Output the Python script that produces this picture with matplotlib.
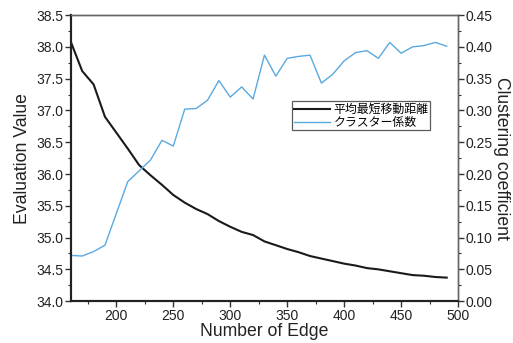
import matplotlib.pyplot as plt
import numpy as np

plt.rcParams['font.family'] = ['Liberation Sans', 'Noto Sans CJK JP', 'DejaVu Sans']

# data
edges = list(range(160, 500, 10))
avg_path = [38.08, 37.62, 37.41, 36.90, 36.65, 36.40, 36.14, 35.98, 35.83, 35.67,
            35.55, 35.45, 35.37, 35.26, 35.17, 35.09, 35.04, 34.94, 34.88, 34.82,
            34.77, 34.71, 34.67, 34.63, 34.59, 34.56, 34.52, 34.50, 34.47, 34.44,
            34.41, 34.40, 34.38, 34.37]
cluster = [0.072, 0.071, 0.078, 0.088, 0.138, 0.188, 0.205, 0.222, 0.253, 0.244,
           0.302, 0.303, 0.316, 0.347, 0.321, 0.337, 0.318, 0.387, 0.354, 0.382,
           0.385, 0.387, 0.343, 0.357, 0.378, 0.391, 0.394, 0.382, 0.407, 0.390,
           0.400, 0.402, 0.407, 0.401]

fig = plt.figure(figsize=(5.13, 3.43), dpi=100)
ax = fig.add_axes([0.138, 0.122, 0.755, 0.834])
ax2 = ax.twinx()

l1, = ax.plot(edges, avg_path, color='#1a1a1a', lw=1.5, label='平均最短移動距離')
l2, = ax2.plot(edges, cluster, color='#5aa9e0', lw=1.0, label='クラスター係数')

ax.set_xlim(160, 500)
ax.set_ylim(34.0, 38.5)
ax2.set_ylim(0, 0.45)
ax.set_xticks(np.arange(200, 501, 50))
ax.set_xticks(np.arange(175, 501, 25), minor=True)
ax.set_yticks(np.arange(34.0, 38.51, 0.5))
ax.set_yticks(np.arange(34.0, 38.51, 0.25), minor=True)
ax2.set_yticks(np.arange(0, 0.451, 0.05))
ax2.set_yticks(np.arange(0, 0.451, 0.025), minor=True)
ax.yaxis.set_major_formatter(plt.FormatStrFormatter('%.1f'))
ax2.yaxis.set_major_formatter(plt.FormatStrFormatter('%.2f'))

for a in (ax, ax2):
    a.tick_params(which='major', length=4, width=1, labelsize=10, pad=1.5,
                  colors='#333333', labelcolor='#222222')
    a.tick_params(which='minor', length=2.5, width=0.8, colors='#333333')
    for s in a.spines.values():
        s.set_color('#666666')
        s.set_linewidth(1.0)
for a in (ax, ax2):
    a.spines['left'].set_color('#222222')
    a.spines['left'].set_linewidth(1.5)
    a.spines['bottom'].set_color('#222222')
    a.spines['bottom'].set_linewidth(1.5)

ax.set_xlabel('Number of Edge', fontsize=12.7, labelpad=0, color='#222222')
ax.set_ylabel('Evaluation Value', fontsize=12.7, labelpad=4, color='#222222')
ax2.set_ylabel('Clustering coefficient', fontsize=12.7, labelpad=0,
               rotation=270, va='bottom', color='#222222')

leg = ax.legend(handles=[l1, l2], loc='upper left', bbox_to_anchor=(0.572, 0.70),
                frameon=True, fancybox=False, borderpad=0.15, borderaxespad=0,
                handlelength=3.0, handletextpad=0.3, labelspacing=0.0,
                prop={'family': ['Noto Sans CJK JP', 'DejaVu Sans'], 'size': 8.6})
leg.get_frame().set_edgecolor('#333333')
leg.get_frame().set_linewidth(0.9)

fig.savefig('out.png', dpi=100)
